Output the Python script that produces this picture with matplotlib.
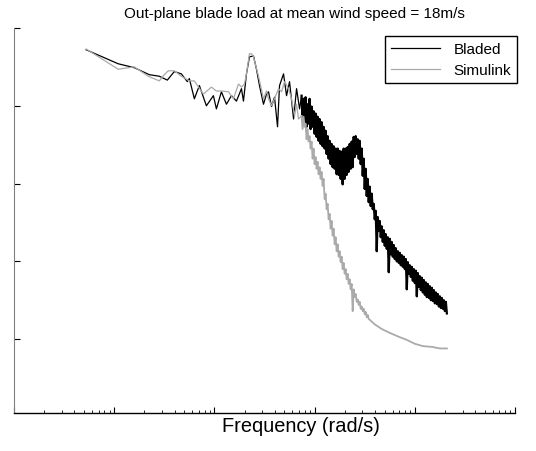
import numpy as np
import matplotlib
matplotlib.use("Agg")
import matplotlib.pyplot as plt

plt.rcParams["font.family"] = ["Liberation Sans", "DejaVu Sans"]
plt.rcParams["path.simplify"] = False

# Spectra: log10 of frequency (rad/s) and PSD in dB (relative)
bladed_logf = [
    -1.28, -1.12, -0.96, -0.80, -0.65, -0.55, -0.47, -0.40, -0.33, -0.27, -0.25, -0.20,
    -0.15, -0.08, -0.01, 0.02, 0.07, 0.12, 0.17, 0.22, 0.27, 0.29, 0.32, 0.35, 0.39,
    0.42, 0.45, 0.49, 0.52, 0.54, 0.57, 0.60, 0.63, 0.65, 0.69, 0.72, 0.75, 0.79, 0.82,
    0.85,
    0.87, 0.88, 0.89, 0.90, 0.91, 0.92, 0.93, 0.94, 0.95, 0.96, 0.97, 0.98, 0.99, 1.00,
    1.01, 1.02, 1.03, 1.04, 1.05, 1.06, 1.07, 1.08, 1.09, 1.10, 1.11, 1.12, 1.13, 1.14,
    1.15, 1.16, 1.17, 1.18, 1.19, 1.20, 1.21, 1.22, 1.23, 1.24, 1.25, 1.26, 1.27, 1.28,
    1.29, 1.30, 1.31, 1.32, 1.33, 1.34, 1.35, 1.36, 1.37, 1.38, 1.39, 1.40, 1.41, 1.42,
    1.43, 1.44, 1.45, 1.46, 1.47, 1.48, 1.49, 1.50, 1.51, 1.52, 1.53, 1.54, 1.55, 1.56,
    1.57, 1.58, 1.59, 1.60, 1.61, 1.62, 1.63, 1.64, 1.65, 1.66, 1.67, 1.68, 1.69, 1.70,
    1.71, 1.72, 1.73, 1.74, 1.75, 1.76, 1.77, 1.78, 1.79, 1.80, 1.81, 1.82, 1.83, 1.84,
    1.85, 1.86, 1.87, 1.88, 1.89, 1.90, 1.91, 1.92, 1.93, 1.94, 1.95, 1.96, 1.97, 1.98,
    1.99, 2.00, 2.01, 2.02, 2.03, 2.04, 2.05, 2.06, 2.07, 2.08, 2.09, 2.10, 2.11, 2.12,
    2.13, 2.14, 2.15, 2.16, 2.17, 2.18, 2.19, 2.20, 2.21, 2.22, 2.23, 2.24, 2.25, 2.26,
    2.27, 2.28, 2.29, 2.30, 2.31, 2.32,
]
bladed_db = [
    37.2, 36.3, 35.4, 34.9, 34.0, 33.8, 33.3, 34.4, 34.1, 33.1, 33.5, 30.9,
    32.6, 30.0, 31.3, 29.6, 31.8, 30.2, 31.3, 30.6, 32.2, 30.6, 34.1, 36.3, 36.4,
    34.7, 32.6, 30.2, 31.5, 31.8, 29.9, 31.1, 27.3, 32.6, 34.1, 31.3, 33.1, 28.3, 32.2,
    29.6,
    31.3, 28.1, 30.9, 27.7, 31.1, 27.3, 30.2, 27.7, 30.9, 27.0, 29.9, 27.3, 29.3, 26.4,
    29.0, 26.0, 28.6, 25.5, 28.3, 25.1, 27.9, 24.8, 27.3, 24.5, 26.8, 23.8, 26.1, 23.2,
    25.5, 22.5, 25.1, 22.1, 24.8, 21.9, 24.5, 21.2, 24.5, 21.1, 24.2, 20.6, 24.1, 19.9,
    24.5, 20.6, 24.5, 21.1, 24.7, 21.5, 25.1, 21.9, 25.4, 22.1, 26.0, 23.4, 26.1, 23.8,
    25.7, 23.2, 25.5, 22.5, 24.5, 21.0, 23.2, 19.3, 21.9, 18.4, 20.6, 17.6, 19.6, 17.1,
    18.7, 16.7, 17.4, 15.4, 16.5, 11.3, 15.7, 13.9, 15.2, 13.1, 14.5, 12.5, 14.0, 12.0,
    13.5, 11.6, 13.1, 8.6, 12.9, 10.9, 12.5, 10.6, 12.1, 10.3, 11.7, 10.0, 11.3, 9.8,
    11.1, 9.5, 10.8, 9.3, 10.6, 9.0, 10.3, 6.4, 9.9, 8.4, 9.5, 8.0, 9.3, 7.5,
    9.0, 7.2, 8.8, 5.5, 8.5, 6.7, 8.1, 6.3, 7.9, 6.0, 7.6, 5.7, 7.3, 5.4,
    7.1, 5.3, 6.8, 5.0, 6.6, 4.9, 6.3, 4.6, 6.0, 4.5, 5.8, 4.2, 5.5, 4.0,
    5.3, 3.9, 5.0, 3.6, 4.8, 3.3,
]

simulink_logf = [
    -1.28, -1.12, -0.96, -0.80, -0.66, -0.55, -0.50, -0.46, -0.40, -0.33, -0.25, -0.20,
    -0.11, -0.03, 0.02, 0.07, 0.14, 0.19, 0.24, 0.27, 0.30, 0.32, 0.35, 0.37, 0.39,
    0.44, 0.49, 0.52, 0.54, 0.57, 0.60, 0.64, 0.67, 0.70, 0.74, 0.77, 0.80, 0.82, 0.84,
    0.87, 0.88, 0.89, 0.90, 0.91, 0.92, 0.93, 0.94, 0.95, 0.96, 0.97, 0.98, 0.99, 1.00,
    1.01, 1.02, 1.03, 1.04, 1.05, 1.06, 1.07, 1.08, 1.09, 1.10, 1.11, 1.12, 1.13, 1.14,
    1.15, 1.16, 1.17, 1.18, 1.19, 1.20, 1.21, 1.22, 1.23, 1.24, 1.25, 1.26, 1.27, 1.28,
    1.29, 1.30, 1.31, 1.32, 1.33, 1.34, 1.35, 1.36, 1.37, 1.38, 1.39, 1.40, 1.41, 1.42,
    1.43, 1.44, 1.45, 1.46, 1.47, 1.48, 1.49, 1.50, 1.51, 1.52, 1.53,
    1.54, 1.60, 1.67, 1.75, 1.84, 1.92, 2.00, 2.08, 2.17, 2.25, 2.32,
]
simulink_db = [
    37.3, 36.0, 34.7, 35.0, 33.8, 33.2, 34.0, 34.5, 34.5, 33.8, 33.2, 33.2,
    31.5, 32.4, 31.9, 31.9, 31.8, 30.9, 32.8, 32.4, 32.8, 34.1, 36.7, 36.7, 36.3,
    33.8, 30.9, 31.9, 30.9, 30.0, 30.9, 32.2, 31.8, 33.1, 32.2, 30.9, 28.7, 30.2, 28.3,
    28.7, 27.0, 28.6, 27.3, 27.7, 25.7, 27.0, 25.4, 26.1, 24.5, 25.4, 23.2, 24.5, 22.5,
    23.4, 21.9, 22.8, 21.2, 22.1, 20.6, 21.5, 19.7, 20.6, 18.0, 18.7, 16.7, 17.4, 15.4,
    16.1, 14.2, 15.2, 13.3, 14.2, 12.2, 13.1, 11.3, 12.2, 10.6, 11.3, 9.9, 10.6, 9.0,
    9.8, 8.4, 9.0, 7.7, 8.4, 7.1, 7.7, 6.4, 7.1, 3.6, 6.4, 5.4, 5.8, 4.8,
    5.1, 4.4, 4.8, 3.9, 4.2, 3.6, 3.9, 3.2, 3.5, 2.8, 3.1,
    2.6, 1.9, 1.3, 0.8, 0.3, -0.1, -0.6, -0.9, -1.0, -1.2, -1.2,
]

# above ~7 rad/s the spectra are dense, drawn with a heavier stroke so the band fills in
dense_start = 0.86

fig = plt.figure(figsize=(5.36, 4.52), dpi=100)
ax = fig.add_axes([14 / 536, 1 - 414 / 452, 501 / 536, 385 / 452])

for logf, db, color, lw_dense, name in [
    (bladed_logf, bladed_db, "black", 1.6, "Bladed"),
    (simulink_logf, simulink_db, "#aaaaaa", 1.3, "Simulink"),
]:
    f = 10 ** np.array(logf)
    db = np.array(db)
    n = int(np.searchsorted(logf, dense_start))
    ax.plot(f[:n + 1], db[:n + 1], color=color, lw=0.9, label=name)
    ax.plot(f[n:], db[n:], color=color, lw=lw_dense)

ax.set_xscale("log")
ax.set_xlim(0.01, 1000)
ax.set_ylim(-9.5, 40)
ax.set_yticks([0, 10, 20, 30, 40])
ax.tick_params(axis="both", which="both", direction="in", labelleft=False, labelbottom=False)
ax.tick_params(axis="both", which="major", length=4, width=0.8)
ax.tick_params(axis="x", which="minor", length=2.5, width=0.6)
ax.spines["top"].set_visible(False)
ax.spines["right"].set_visible(False)
ax.spines["left"].set_color("#808080")
ax.spines["bottom"].set_linewidth(1.0)

ax.set_xlabel("Frequency (rad/s)", fontsize=14.4)
ax.xaxis.set_label_coords((301 - 14) / 501, -0.008)
fig.text(294 / 536, 1 - 14 / 452, "Out-plane blade load at mean wind speed = 18m/s",
         ha="center", va="center", fontsize=11)

leg = ax.legend(loc="upper right", bbox_to_anchor=(1.004, 0.979), borderaxespad=0,
                fontsize=11, handlelength=3.2, fancybox=False, edgecolor="black",
                framealpha=1, labelspacing=0.45, borderpad=0.4, handletextpad=0.9)
leg.get_frame().set_linewidth(1.0)

fig.savefig("out.png", dpi=100)
